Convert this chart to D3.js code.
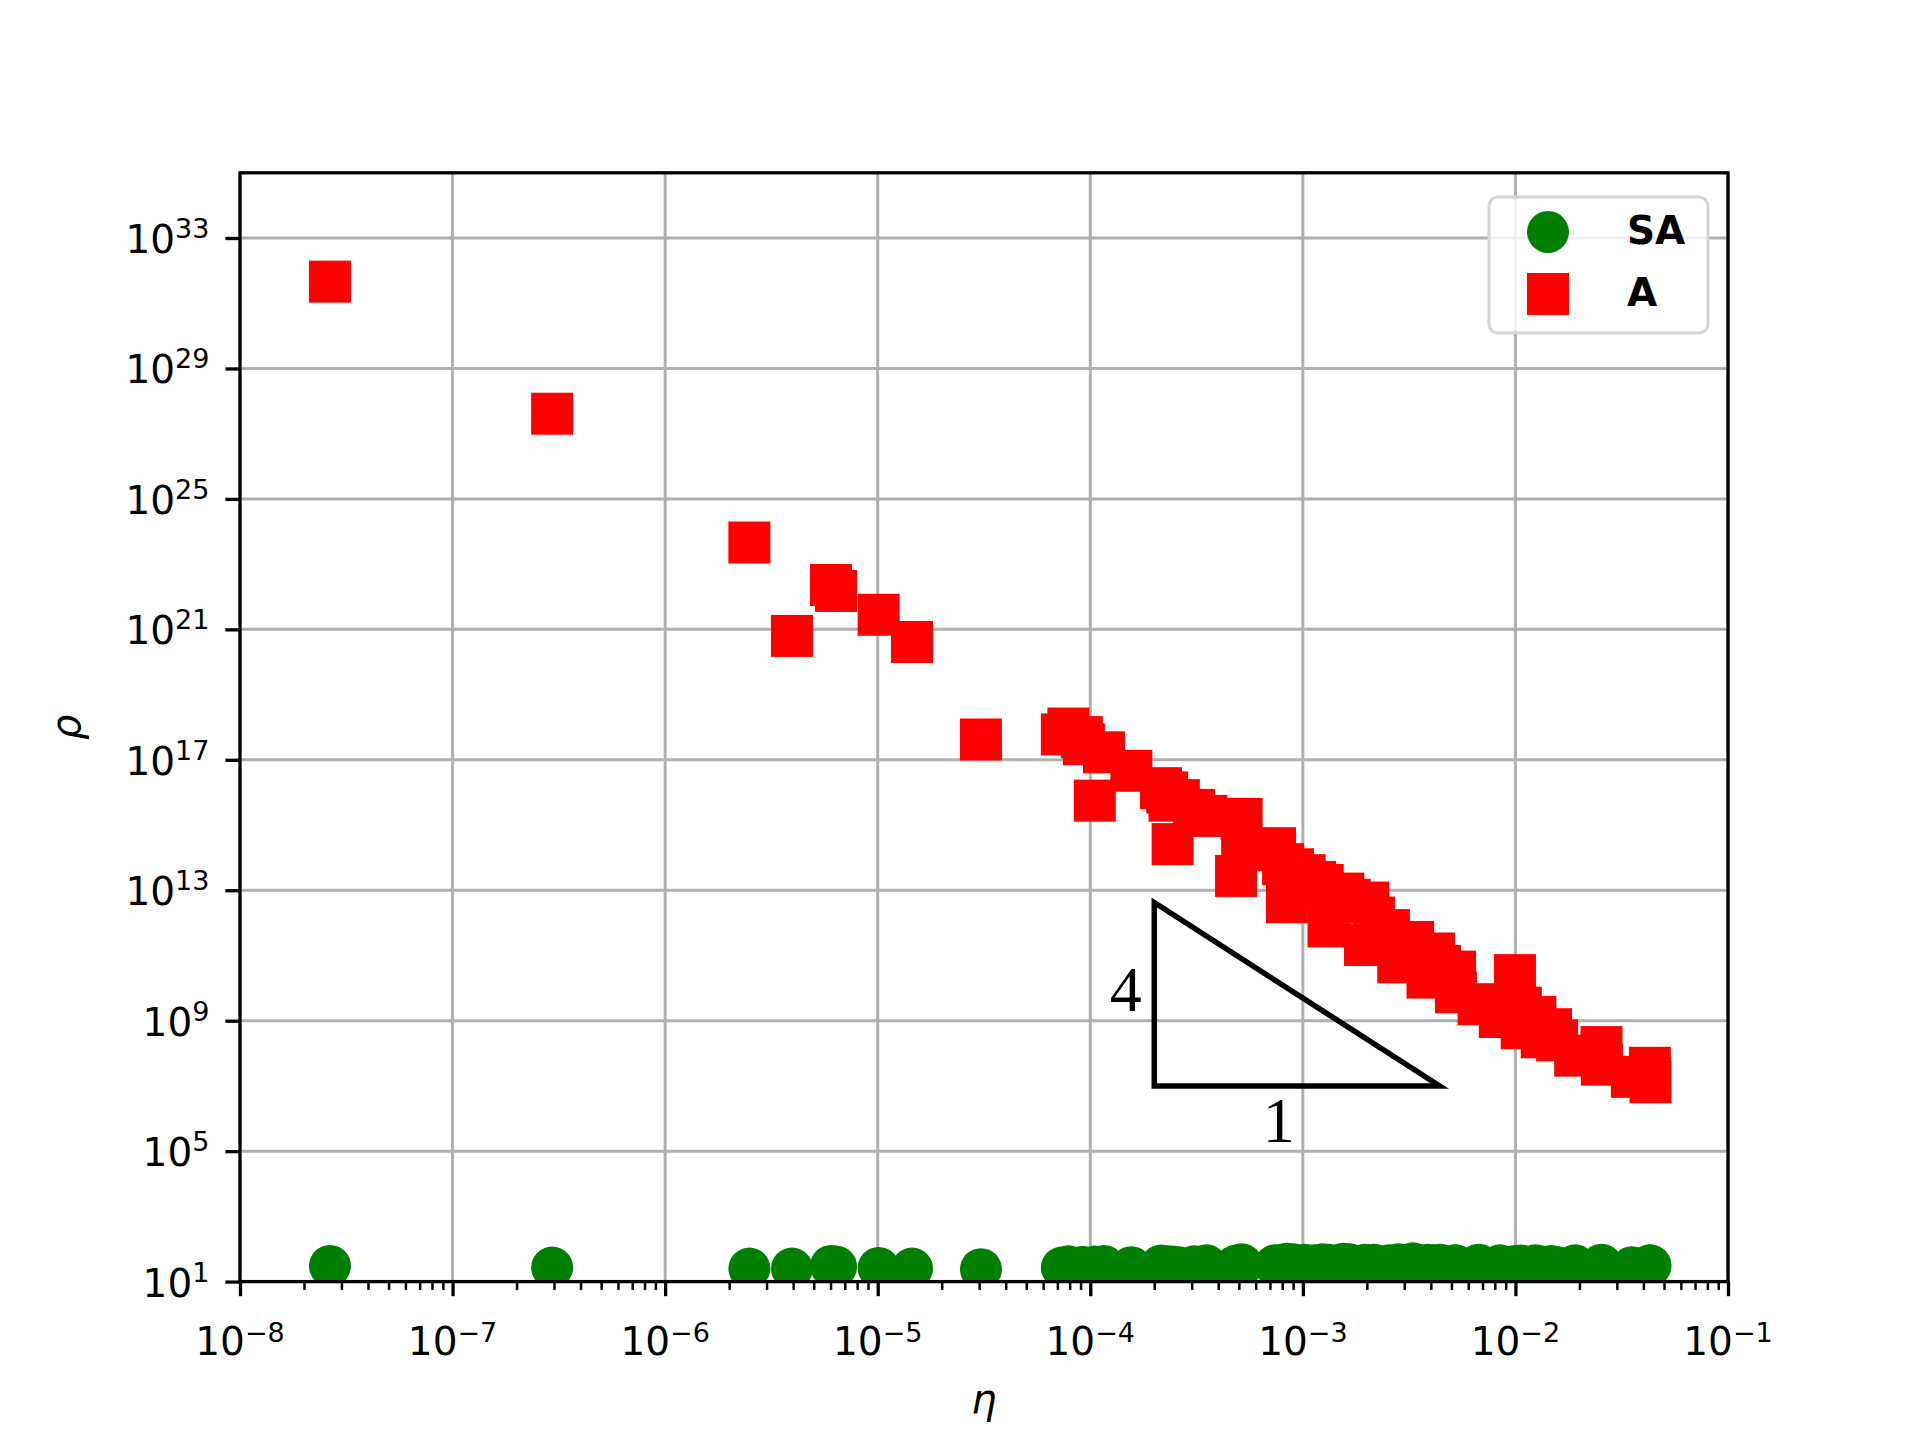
<!DOCTYPE html>
<html>
<head>
<meta charset="utf-8">
<script src="https://d3js.org/d3.v7.min.js"></script>
<style>
body {
    margin: 0;
    background: #ffffff;
}

svg text {
    font-family: "DejaVu Sans", sans-serif;
    fill: #000000;
}

.grid line {
    stroke: #b0b0b0;
    stroke-width: 3;
}

.axis path.domain {
    display: none;
}

.axis line {
    stroke: #000000;
}
</style>
</head>
<body>

<script type="text/javascript">

// eta values (shared by both series)
var eta = [2.65e-8, 2.94e-7, 2.49e-6, 3.95e-6, 6.03e-6, 6.37e-6, 1.01e-5, 1.45e-5, 3.06e-5, 7.35e-5,
           7.89e-5, 9.12e-5, 9.33e-5, 1.05e-4, 1.16e-4, 1.56e-4, 2.15e-4, 2.30e-4, 2.36e-4, 2.44e-4,
           2.61e-4, 3.08e-4, 3.52e-4, 4.85e-4, 5.15e-4, 5.18e-4, 7.40e-4, 8.07e-4, 8.41e-4, 8.99e-4,
           1.02e-3, 1.14e-3, 1.24e-3, 1.32e-3, 1.55e-3, 1.66e-3, 1.96e-3, 2.03e-3, 2.16e-3, 2.54e-3,
           2.81e-3, 3.30e-3, 3.86e-3, 4.14e-3, 4.42e-3, 5.20e-3, 5.25e-3, 6.71e-3, 8.45e-3, 9.95e-3,
           1.06e-2, 1.07e-2, 1.24e-2, 1.33e-2, 1.47e-2, 1.57e-2, 1.91e-2, 2.54e-2, 2.55e-2, 3.53e-2,
           4.29e-2, 4.32e-2];

// rho for series A
var rhoA = [4.6e31, 4.1e27, 4.6e23, 6.3e20, 2.3e22, 1.5e22, 2.8e21, 4.1e20, 4.2e17, 6.0e17,
            9.1e17, 5.0e17, 3.0e17, 5.6e15, 1.7e17, 4.6e16, 1.35e16, 1.0e16, 5.6e15, 2.6e14,
            5.8e15, 2.9e15, 1.9e15, 2.75e13, 1.55e15, 1.7e14, 1.95e14, 6.3e13, 4.3e12, 4.4e13,
            2.9e13, 1.8e13, 1.45e13, 7.8e11, 7.9e12, 5.1e12, 2.1e11, 4.2e12, 1.45e12, 6.0e11,
            6.2e10, 2.6e11, 2.1e10, 1.15e11, 4.8e10, 3.2e10, 7.4e9, 3.2e9, 1.3e9, 2.5e10,
            2.5e9, 5.9e8, 1.3e9, 3.1e8, 5.5e8, 2.5e8, 8.5e7, 1.55e8, 4.5e7, 1.9e7,
            3.6e7, 1.3e7];

// rho for series SA
var rhoSA = [30.2, 26.9, 25.1, 25.1, 30.2, 28.8, 26.3, 25.1, 24.0, 26.9,
             29.5, 28.2, 27.5, 28.8, 30.2, 27.5, 30.9, 29.5, 28.2, 28.8,
             27.5, 29.5, 31.6, 30.9, 33.9, 32.4, 31.6, 33.1, 35.5, 33.9,
             33.1, 31.6, 33.9, 33.1, 35.5, 33.9, 33.1, 31.6, 33.1, 31.6,
             33.9, 36.3, 33.1, 31.6, 33.1, 31.6, 30.9, 33.1, 31.6, 30.2,
             30.9, 29.5, 31.6, 28.8, 30.2, 27.5, 31.6, 33.1, 29.5, 27.5,
             31.6, 30.9];

// tick values
var xTicks = [1e-8, 1e-7, 1e-6, 1e-5, 1e-4, 1e-3, 1e-2, 1e-1];
var xTickExp = ["\u22128", "\u22127", "\u22126", "\u22125", "\u22124", "\u22123", "\u22122", "\u22121"];
var yTicks = [1e1, 1e5, 1e9, 1e13, 1e17, 1e21, 1e25, 1e29, 1e33];
var yTickExp = ["1", "5", "9", "13", "17", "21", "25", "29", "33"];

// legend entries
var seriesNames = ["SA", "A"];

// slope triangle (data coords) and its labels
var triangle = [[2e-4, 1e7], [2e-4, 4.2e12], [4.4e-3, 1e7]];
var triLabels = ["4", "1"];
var triLabelEta = [1.47e-4, 7.7e-4];
var triLabelRho = [8.7e9, 8.3e5];

// figure layout (matplotlib default axes box on a 1920x1440 canvas)
var W = 1920, H = 1440;
var axL = 240, axR = 1728, axT = 172.8, axB = 1281.6;
var majorLen = 14.6, minorLen = 8.3;
var mark = 42;

var svg = d3.select("body").append("svg")
    .attr("width", W)
    .attr("height", H);

svg.append("rect").attr("width", W).attr("height", H).attr("fill", "#ffffff");

var x = d3.scaleLog().domain([1e-8, 1e-1]).range([axL, axR]);
var y = d3.scaleLog().domain([1e1, 1e35]).range([axB, axT]);

// minor ticks on x
var xMinor = [];
for (var d = -8; d < -1; d++) {
    for (var k = 2; k < 10; k++) xMinor.push(k * Math.pow(10, d));
}

// grid
var grid = svg.append("g").attr("class", "grid");
grid.selectAll("line.gx")
    .data(xTicks.slice(1, -1))
  .enter().append("line")
    .attr("x1", function(d) { return x(d); })
    .attr("x2", function(d) { return x(d); })
    .attr("y1", axT)
    .attr("y2", axB);
grid.selectAll("line.gy")
    .data(yTicks.slice(1))
  .enter().append("line")
    .attr("x1", axL)
    .attr("x2", axR)
    .attr("y1", function(d) { return y(d); })
    .attr("y2", function(d) { return y(d); });

// clip to the axes box
svg.append("clipPath").attr("id", "plotclip")
  .append("rect")
    .attr("x", axL).attr("y", axT)
    .attr("width", axR - axL).attr("height", axB - axT);

var plot = svg.append("g").attr("clip-path", "url(#plotclip)");

// SA: green circles
plot.selectAll("circle.sa")
    .data(eta)
  .enter().append("circle")
    .attr("cx", function(d) { return x(d); })
    .attr("cy", function(d, i) { return y(rhoSA[i]); })
    .attr("r", mark / 2)
    .attr("fill", "#008000");

// A: red squares
plot.selectAll("rect.a")
    .data(eta)
  .enter().append("rect")
    .attr("x", function(d) { return x(d) - mark / 2; })
    .attr("y", function(d, i) { return y(rhoA[i]) - mark / 2; })
    .attr("width", mark)
    .attr("height", mark)
    .attr("fill", "#ff0000");

// slope triangle
plot.append("path")
    .attr("d", d3.line()
        .x(function(d) { return x(d[0]); })
        .y(function(d) { return y(d[1]); })
        .curve(d3.curveLinearClosed)(triangle))
    .attr("fill", "none")
    .attr("stroke", "#000000")
    .attr("stroke-width", 5.5)
    .attr("stroke-linejoin", "miter");

svg.selectAll("text.tri")
    .data(triLabels)
  .enter().append("text")
    .attr("x", function(d, i) { return x(triLabelEta[i]); })
    .attr("y", function(d, i) { return y(triLabelRho[i]); })
    .attr("dy", "0.33em")
    .attr("text-anchor", "middle")
    .style("font-family", "'Liberation Serif', serif")
    .style("font-size", "64px")
    .text(function(d) { return d; });

// x axis: minor then major ticks
var xMin = svg.append("g")
    .attr("class", "axis")
    .attr("transform", "translate(0," + axB + ")")
    .call(d3.axisBottom(x).tickValues(xMinor).tickSize(minorLen).tickFormat(""));
xMin.selectAll("line").attr("stroke-width", 2.5);
var xMaj = svg.append("g")
    .attr("class", "axis")
    .attr("transform", "translate(0," + axB + ")")
    .call(d3.axisBottom(x).tickValues(xTicks).tickSize(majorLen).tickFormat(""));
xMaj.selectAll("line").attr("stroke-width", 3.3);

// x tick labels as 10^n
svg.selectAll("text.xlab")
    .data(xTicks)
  .enter().append("text")
    .attr("x", function(d) { return x(d); })
    .attr("y", axB + 73)
    .attr("text-anchor", "middle")
    .style("font-size", "39px")
    .each(function(d, i) {
        var t = d3.select(this);
        t.append("tspan").text("10");
        t.append("tspan").attr("dy", -13).style("font-size", "27px").text(xTickExp[i]);
    });

// y axis
var yMaj = svg.append("g")
    .attr("class", "axis")
    .attr("transform", "translate(" + axL + ",0)")
    .call(d3.axisLeft(y).tickValues(yTicks).tickSize(majorLen).tickFormat(""));
yMaj.selectAll("line").attr("stroke-width", 3.3);

svg.selectAll("text.ylab")
    .data(yTicks)
  .enter().append("text")
    .attr("x", axL - majorLen - 16)
    .attr("y", function(d) { return y(d) + 15; })
    .attr("text-anchor", "end")
    .style("font-size", "39px")
    .each(function(d, i) {
        var t = d3.select(this);
        t.append("tspan").text("10");
        t.append("tspan").attr("dy", -15).style("font-size", "27px").text(yTickExp[i]);
    });

// spines
svg.append("rect")
    .attr("x", axL).attr("y", axT)
    .attr("width", axR - axL).attr("height", axB - axT)
    .attr("fill", "none")
    .attr("stroke", "#000000")
    .attr("stroke-width", 3.3);

// axis labels
svg.append("text")
    .attr("x", (axL + axR) / 2)
    .attr("y", 1413)
    .attr("text-anchor", "middle")
    .style("font-size", "40px")
    .style("font-style", "italic")
    .text("\u03b7");

svg.append("text")
    .attr("transform", "translate(80," + (axT + axB) / 2 + ") rotate(-90)")
    .attr("text-anchor", "middle")
    .style("font-size", "40px")
    .style("font-style", "italic")
    .text("\u03c1");

// legend
var legend = svg.append("g");
legend.append("rect")
    .attr("x", 1489).attr("y", 197)
    .attr("width", 219).attr("height", 136)
    .attr("rx", 9)
    .attr("fill", "#ffffff")
    .attr("fill-opacity", 0.8)
    .attr("stroke", "#d4d4d4")
    .attr("stroke-width", 3);

legend.append("circle")
    .attr("cx", 1548).attr("cy", 232)
    .attr("r", mark / 2)
    .attr("fill", "#008000");
legend.append("rect")
    .attr("x", 1548 - mark / 2).attr("y", 294 - mark / 2)
    .attr("width", mark).attr("height", mark)
    .attr("fill", "#ff0000");

legend.selectAll("text")
    .data(seriesNames)
  .enter().append("text")
    .attr("x", 1627)
    .attr("y", function(d, i) { return 244 + i * 62; })
    .style("font-size", "39px")
    .style("font-weight", "bold")
    .text(function(d) { return d; });

</script>

</body>
</html>
